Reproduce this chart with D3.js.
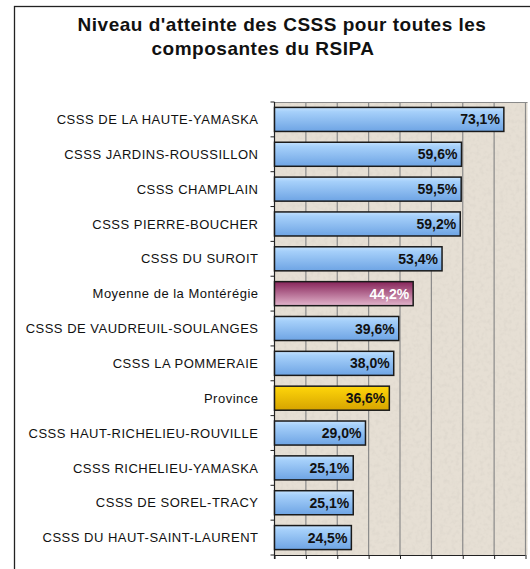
<!DOCTYPE html>
<html>
<head>
<meta charset="utf-8">
<script src="https://cdn.jsdelivr.net/npm/d3@7"></script>
<style>
  body { margin: 0; background: #fff; }
  svg { display: block; }
</style>
</head>
<body>
<div id="chart"></div>
<script>
// data
let categories = [
    "CSSS DE LA HAUTE-YAMASKA",
    "CSSS JARDINS-ROUSSILLON",
    "CSSS CHAMPLAIN",
    "CSSS PIERRE-BOUCHER",
    "CSSS DU SUROIT",
    "Moyenne de la Montérégie",
    "CSSS DE VAUDREUIL-SOULANGES",
    "CSSS LA POMMERAIE",
    "Province",
    "CSSS HAUT-RICHELIEU-ROUVILLE",
    "CSSS RICHELIEU-YAMASKA",
    "CSSS DE SOREL-TRACY",
    "CSSS DU HAUT-SAINT-LAURENT"
];
let values = [73.1, 59.6, 59.5, 59.2, 53.4, 44.2, 39.6, 38.0, 36.6, 29.0, 25.1, 25.1, 24.5];
let barKind = ["csss", "csss", "csss", "csss", "csss", "moyenne", "csss", "csss", "province", "csss", "csss", "csss", "csss"];
let xTicks = [0, 10, 20, 30, 40, 50, 60, 70, 80];
let titleLines = ["Niveau d'atteinte des CSSS pour toutes les", "composantes du RSIPA"];

var width = 530, height = 569;
var plot = {left: 274.5, right: 525.5, top: 102, bottom: 555};
var font = "'Liberation Sans', Arial, sans-serif";

var svg = d3.select("#chart")
    .append("svg")
    .attr("width", width)
    .attr("height", height);

var defs = svg.append("defs");

// bar gradients
function addGradient(id, stops) {
    var g = defs.append("linearGradient")
        .attr("id", id)
        .attr("x1", 0).attr("y1", 0).attr("x2", 0).attr("y2", 1);
    stops.forEach(s => g.append("stop").attr("offset", s[0]).attr("stop-color", s[1]));
}
addGradient("grad-csss", [["0%", "#c4e2ff"], ["18%", "#a6d0fa"], ["100%", "#6ea4e4"]]);
addGradient("grad-moyenne", [["0%", "#87245a"], ["100%", "#e2b4cb"]]);
addGradient("grad-province", [["0%", "#ffd60a"], ["100%", "#d6a400"]]);

// paper texture for the plot area
var noise = defs.append("filter").attr("id", "paper")
    .attr("x", 0).attr("y", 0).attr("width", "100%").attr("height", "100%");
noise.append("feTurbulence")
    .attr("type", "fractalNoise")
    .attr("baseFrequency", 0.25)
    .attr("numOctaves", 2)
    .attr("seed", 4);
noise.append("feColorMatrix")
    .attr("type", "matrix")
    .attr("values", "0 0 0 0 0.55  0 0 0 0 0.52  0 0 0 0 0.47  0 0 0 -1.4 0.8");
noise.append("feComposite").attr("in2", "SourceGraphic").attr("operator", "in");

// outer chart border
svg.append("rect")
    .attr("x", 14.5).attr("y", 6.5)
    .attr("width", 540).attr("height", 580)
    .attr("fill", "none")
    .attr("stroke", "#222")
    .attr("stroke-width", 1.3);

// title
svg.append("g")
    .selectAll("text")
    .data(titleLines)
    .join("text")
    .attr("x", (d, i) => i === 0 ? 282 : 263)
    .attr("y", (d, i) => 31 + i * 23.5)
    .attr("text-anchor", "middle")
    .style("font-family", font)
    .style("font-weight", "bold")
    .style("font-size", "19px")
    .style("letter-spacing", "0.5px")
    .style("fill", "#111")
    .text(d => d);

// scales
var x = d3.scaleLinear()
    .domain([0, 80])
    .range([plot.left, plot.right]);

var y = d3.scaleBand()
    .domain(categories)
    .range([plot.top, plot.bottom])
    .paddingInner(0.31)
    .paddingOuter(0.155);

// plot background
svg.append("rect")
    .attr("x", plot.left).attr("y", plot.top)
    .attr("width", plot.right - plot.left + 2)
    .attr("height", plot.bottom - plot.top)
    .attr("fill", "#e6dfd4");
svg.append("rect")
    .attr("x", plot.left).attr("y", plot.top)
    .attr("width", plot.right - plot.left + 2)
    .attr("height", plot.bottom - plot.top)
    .attr("fill", "#fff")
    .attr("filter", "url(#paper)")
    .attr("opacity", 0.35);

// gridlines
svg.append("g")
    .selectAll("line")
    .data(xTicks.slice(1))
    .join("line")
    .attr("x1", d => x(d)).attr("x2", d => x(d))
    .attr("y1", plot.top).attr("y2", plot.bottom)
    .attr("stroke", "#8a8a8a")
    .attr("stroke-width", 1.2);

// top border of plot area
svg.append("line")
    .attr("x1", plot.left).attr("x2", plot.right + 2)
    .attr("y1", plot.top + 0.5).attr("y2", plot.top + 0.5)
    .attr("stroke", "#8a8a8a");

// bottom axis: ticks only
var xAxis = d3.axisBottom(x)
    .tickValues(xTicks)
    .tickSize(4)
    .tickFormat("");
svg.append("g")
    .attr("transform", `translate(0, ${plot.bottom})`)
    .call(xAxis)
    .call(g => g.select(".domain").attr("d", `M${plot.left},0.5H${plot.right}`))
    .call(g => g.selectAll(".tick line").attr("stroke", "#222"))
    .style("color", "#222");

// left axis: line with ticks between categories
var yAxisG = svg.append("g");
yAxisG.append("line")
    .attr("x1", plot.left).attr("x2", plot.left)
    .attr("y1", plot.top).attr("y2", plot.bottom + 4)
    .attr("stroke", "#222")
    .attr("stroke-width", 1.2);
yAxisG.selectAll("line.tick")
    .data(d3.range(categories.length + 1))
    .join("line")
    .attr("class", "tick")
    .attr("x1", plot.left - 4).attr("x2", plot.left)
    .attr("y1", i => plot.top + i * y.step())
    .attr("y2", i => plot.top + i * y.step())
    .attr("stroke", "#222");

// category labels
svg.append("g")
    .selectAll("text")
    .data(categories)
    .join("text")
    .attr("x", 258.5)
    .attr("y", d => y(d) + y.bandwidth() / 2)
    .attr("dy", "0.36em")
    .attr("text-anchor", "end")
    .style("font-family", font)
    .style("font-size", "13px")
    .style("letter-spacing", "0.5px")
    .style("fill", "#111")
    .text(d => d);

// bars
var bars = categories.map((c, i) => ({name: c, value: values[i], kind: barKind[i]}));

svg.append("g")
    .selectAll("rect")
    .data(bars)
    .join("rect")
    .attr("x", x(0))
    .attr("y", d => y(d.name))
    .attr("width", d => x(d.value) - x(0))
    .attr("height", y.bandwidth())
    .attr("fill", d => `url(#grad-${d.kind})`)
    .attr("stroke", "#1a1a1a")
    .attr("stroke-width", 1.5);

// value labels
svg.append("g")
    .selectAll("text")
    .data(bars)
    .join("text")
    .attr("x", d => x(d.value) - 4)
    .attr("y", d => y(d.name) + y.bandwidth() / 2)
    .attr("dy", "0.36em")
    .attr("text-anchor", "end")
    .style("font-family", font)
    .style("font-weight", "bold")
    .style("font-size", "14px")
    .style("fill", d => d.kind === "moyenne" ? "#fff" : "#111")
    .text(d => d3.format(".1f")(d.value).replace(".", ",") + "%");
</script>
</body>
</html>
